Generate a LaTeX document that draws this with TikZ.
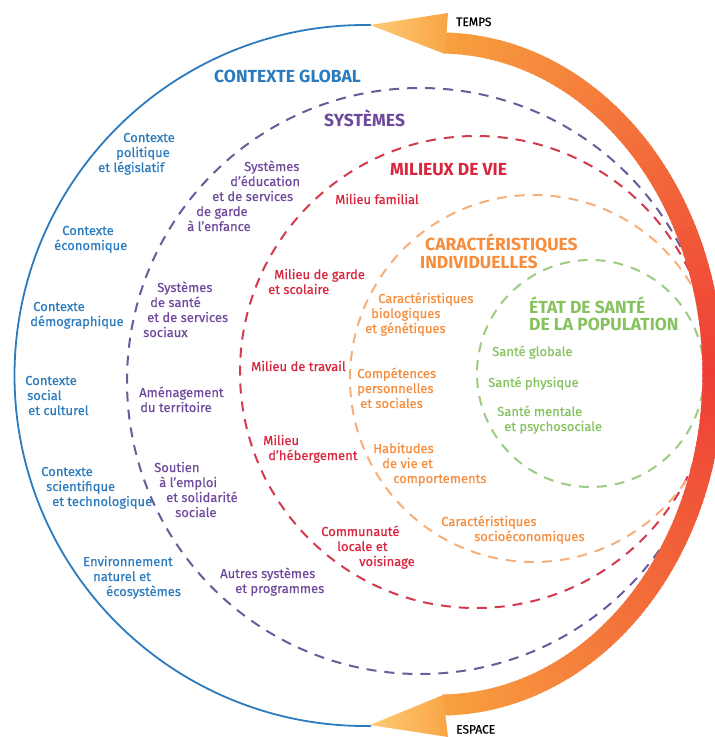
\documentclass[tikz,border=0pt]{standalone}
\usepackage{fontspec}
\setmainfont{Fira Sans}
\newfontfamily\lblfont{Fira Sans}[FakeBold=0.5]
\usepackage{xcolor}
\usepackage{tikz}
\usetikzlibrary{positioning}
\usetikzlibrary{calc}

\definecolor{ctxblue}{HTML}{2B7BBE}
\definecolor{sysviolet}{HTML}{6F4A9C}
\definecolor{sysdash}{HTML}{6C5A99}
\definecolor{milred}{HTML}{D8263E}
\definecolor{mildash}{HTML}{D23A4E}
\definecolor{carorange}{HTML}{F58D3D}
\definecolor{cardash}{HTML}{F7AF79}
\definecolor{sangreen}{HTML}{86C25F}
\definecolor{sandash}{HTML}{9CCB82}
\definecolor{bandred}{HTML}{EE3E36}
\definecolor{bandorange}{HTML}{F8A23F}
\definecolor{headlight}{HTML}{FDCB76}
\definecolor{headorange}{HTML}{F9A545}

\newcommand{\indt}[1]{\hspace*{#1pt}}

\begin{document}
\begin{tikzpicture}[x=1pt,y=-1pt,
  lbl/.style={inner sep=0pt,anchor=base west,align=left,font=\lblfont\fontsize{13}{15}\selectfont},
  title/.style={inner sep=0pt,anchor=base west,align=left,font=\bfseries\fontsize{17.5}{18}\selectfont},
  axis label/.style={inner sep=0pt,anchor=base west,font=\lblfont\fontsize{12}{12}\selectfont},
  ring/.style={line width=2pt,dash pattern=on 10pt off 8pt}]
\useasboundingbox (0,0) rectangle (715,737);
\clip (0,0) rectangle (715,737);

\draw[ring,sysdash] (420,381) circle[radius=293];
\draw[ring,mildash] (476,372) circle[radius=236];
\draw[ring,cardash] (533.5,378.5) circle[radius=183.5];
\draw[ring,sandash] (590.5,373.5) circle[radius=113.5];

\draw[ctxblue,line width=1.8pt] (365,375.5) ++(271:350.5) arc[start angle=271,end angle=89,radius=350.5];

\foreach \t in {-89,...,88}{
  \pgfmathsetmacro\p{100*(1-abs(\t+0.5)/90)}
  \draw[line width=21pt,bandred!\p!bandorange] (440,374) ++(\t:273 and 331) arc[start angle=\t,end angle=\t+1.4,x radius=273,y radius=331];
}
\shade[left color=headlight,right color=headorange] (370,25) -- (448,13) -- (445,54) -- cycle;
\shade[left color=headlight,right color=headorange] (370,725) -- (443,695) -- (448,737) -- cycle;

\node[axis label] at (456,26) (temps) {TEMPS};
\node[axis label] at (456,733.5) (espace) {ESPACE};

\node[title,ctxblue] at (214,82.5) (global) {CONTEXTE GLOBAL};
\node[title,sysviolet] at (324,126) (systemes) {SYSTÈMES};
\node[title,milred] at (390,175) (milieux) {MILIEUX DE VIE};
\node[title,carorange] at (420,268) (caract) {\indt{5}CARACTÉRISTIQUES\\INDIVIDUELLES};
\node[title,sangreen,font=\bfseries\fontsize{17.5}{17}\selectfont] at (529,330) (etat) {ÉTAT DE SANTÉ\\DE LA POPULATION};

\node[lbl,ctxblue] at (98,172) (ctxpol) {\indt{25}Contexte\\\indt{18}politique\\et législatif};
\node[lbl,ctxblue] at (54,250) (ctxeco) {\indt{8}Contexte\\économique};
\node[lbl,ctxblue] at (30,326) (ctxdem) {\indt{3}Contexte\\démographique};
\node[lbl,ctxblue] at (25,415) (ctxsoc) {Contexte\\\indt{2}social\\\indt{3}et culturel};
\node[lbl,ctxblue] at (41,506) (ctxsci) {Contexte\\\indt{5}scientifique\\\indt{11}et technologique};
\node[lbl,ctxblue] at (83,596) (ctxenv) {Environnement\\\indt{10}naturel et\\\indt{23}écosystèmes};

\node[lbl,sysviolet] at (187,231) (syseduc) {\indt{57}Systèmes\\\indt{43}d’éducation\\\indt{25}et de services\\\indt{9}de garde\\à l’enfance};
\node[lbl,sysviolet] at (143,337) (syssante) {\indt{14}Systèmes\\\indt{7}de santé\\\indt{4}et de services\\sociaux};
\node[lbl,sysviolet] at (139,412) (sysamen) {Aménagement\\\indt{1}du territoire};
\node[lbl,sysviolet] at (154,517) (syssout) {Soutien\\\indt{5}à l’emploi\\\indt{12}et solidarité\\\indt{21}sociale};
\node[lbl,sysviolet] at (220,593) (sysautres) {Autres systèmes\\\indt{15}et programmes};

\node[lbl,milred] at (335,204) (milfam) {Milieu familial};
\node[lbl,milred] at (268,294) (milgarde) {\indt{6}Milieu de garde\\et scolaire};
\node[lbl,milred] at (251,371) (miltrav) {Milieu de travail};
\node[lbl,milred] at (263,460) (milheb) {Milieu\\\indt{5}d’hébergement};
\node[lbl,milred] at (321,566) (milcomm) {Communauté\\\indt{16}locale et\\\indt{38}voisinage};

\node[lbl,carorange] at (365,333) (carbio) {\indt{13}Caractéristiques\\\indt{6}biologiques\\et génétiques};
\node[lbl,carorange] at (357,408) (carcomp) {Compétences\\personnelles\\\indt{3}et sociales};
\node[lbl,carorange] at (373,483) (carhab) {Habitudes\\\indt{9}de vie et\\\indt{20}comportements};
\node[lbl,carorange] at (441,541) (carsocio) {Caractéristiques\\\indt{33}socioéconomiques};

\node[lbl,sangreen] at (492,356) (sanglob) {Santé globale};
\node[lbl,sangreen] at (488,387) (sanphys) {Santé physique};
\node[lbl,sangreen] at (497,431) (sanment) {Santé mentale\\\indt{7}et psychosociale};
\end{tikzpicture}
\end{document}
